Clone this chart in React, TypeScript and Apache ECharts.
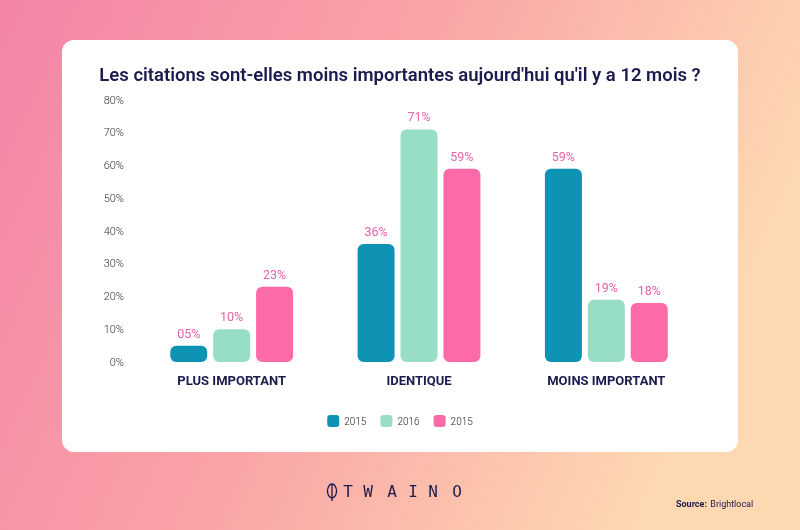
import React, { useEffect, useRef } from "react";
import * as echarts from "echarts";

const categories = ["PLUS IMPORTANT", "IDENTIQUE", "MOINS IMPORTANT"];
const legendLabels = ["2015", "2016", "2015"];
const seriesA = [5, 36, 59];
const seriesB = [10, 71, 19];
const seriesC = [23, 59, 18];
const colors = ["#0e93b4", "#98dec4", "#fc6aa8"];
const yTicks = [0, 10, 20, 30, 40, 50, 60, 70, 80];
const titleText = "Les citations sont-elles moins importantes aujourd'hui qu'il y a 12 mois ?";
const logoLetters = ["T", "W", "A", "I", "N", "O"];

export default function App() {
  const ref = useRef<HTMLDivElement>(null);
  useEffect(() => {
    if (!ref.current) return;
    const chart = echarts.init(ref.current, null, { renderer: "svg" });
    const seriesKeys = ["s0", "s1", "s2"];
    const data = [seriesA, seriesB, seriesC];
    const navy = "#1c1b4d";
    const letterX = [348, 368, 392, 413, 433, 457];
    chart.setOption({
      animation: false,
      backgroundColor: "transparent",
      title: {
        text: titleText,
        left: "center",
        top: 60,
        textStyle: {
          fontFamily: "Roboto",
          fontWeight: 600,
          fontSize: 18.5,
          color: navy,
        },
      },
      graphic: [
        {
          type: "rect",
          z: -10,
          shape: { x: 0, y: 0, width: 800, height: 530 },
          style: {
            fill: new echarts.graphic.LinearGradient(0, 0, 1, 0.3, [
              { offset: 0, color: "#f384a6" },
              { offset: 0.5, color: "#f9a3a7" },
              { offset: 1, color: "#fed8b1" },
            ]),
          },
        },
        {
          type: "rect",
          z: -9,
          shape: { x: 62, y: 40, width: 676, height: 412, r: 12 },
          style: { fill: "#ffffff" },
        },
        {
          type: "ellipse",
          shape: { cx: 332, cy: 491, rx: 4.5, ry: 7 },
          style: { fill: "none", stroke: navy, lineWidth: 1.3 },
        },
        {
          type: "line",
          shape: { x1: 332, y1: 485, x2: 332, y2: 501 },
          style: { stroke: navy, lineWidth: 1.3 },
        },
        ...logoLetters.map((l, i) => ({
          type: "text",
          x: letterX[i],
          y: 491,
          style: {
            text: l,
            fill: navy,
            font: "400 16px 'DejaVu Sans Mono'",
            textAlign: "center",
            textVerticalAlign: "middle",
          },
        })),
        {
          type: "text",
          x: 676,
          y: 504,
          style: {
            text: "{b|Source:} {r|Brightlocal}",
            textVerticalAlign: "middle",
            rich: {
              b: { fontFamily: "Roboto", fontWeight: 700, fontSize: 9, fill: navy, color: navy },
              r: { fontFamily: "Roboto", fontWeight: 400, fontSize: 9, fill: navy, color: navy },
            },
          },
        },
      ],
      legend: {
        top: 410,
        left: "center",
        itemWidth: 12,
        itemHeight: 12,
        itemGap: 14,
        icon: "roundRect",
        data: seriesKeys,
        formatter: (name: string) => legendLabels[seriesKeys.indexOf(name)],
        textStyle: { fontFamily: "Roboto", fontWeight: 300, fontSize: 10, color: "#222" },
      },
      grid: { left: 138, width: 562, top: 100, bottom: 168, containLabel: false },
      xAxis: {
        type: "category",
        data: categories,
        axisLine: { show: false },
        axisTick: { show: false },
        axisLabel: {
          margin: 12,
          fontFamily: "Roboto",
          fontWeight: 700,
          fontSize: 13,
          color: navy,
        },
      },
      yAxis: {
        type: "value",
        min: yTicks[0],
        max: yTicks[yTicks.length - 1],
        interval: 10,
        splitLine: { show: false },
        axisLine: { show: false },
        axisTick: { show: false },
        axisLabel: {
          margin: 14,
          formatter: "{value}%",
          fontFamily: "Roboto",
          fontWeight: 300,
          fontSize: 11,
          color: "#333",
        },
      },
      series: data.map((d, i) => ({
        name: seriesKeys[i],
        type: "bar",
        data: d,
        barWidth: 37,
        barGap: "16%",
        itemStyle: { color: colors[i], borderRadius: 6 },
        label: {
          show: true,
          position: "top",
          distance: 6,
          fontFamily: "Roboto",
          fontWeight: 400,
          fontSize: 12.5,
          color: "#e862a8",
          formatter: (p: any) => (p.value < 10 ? "0" + p.value : String(p.value)) + "%",
        },
      })),
    });
    return () => chart.dispose();
  }, []);
  return (
    <div
      ref={ref}
      style={{ position: "fixed", left: 0, top: 0, width: 800, height: 530 }}
    />
  );
}
